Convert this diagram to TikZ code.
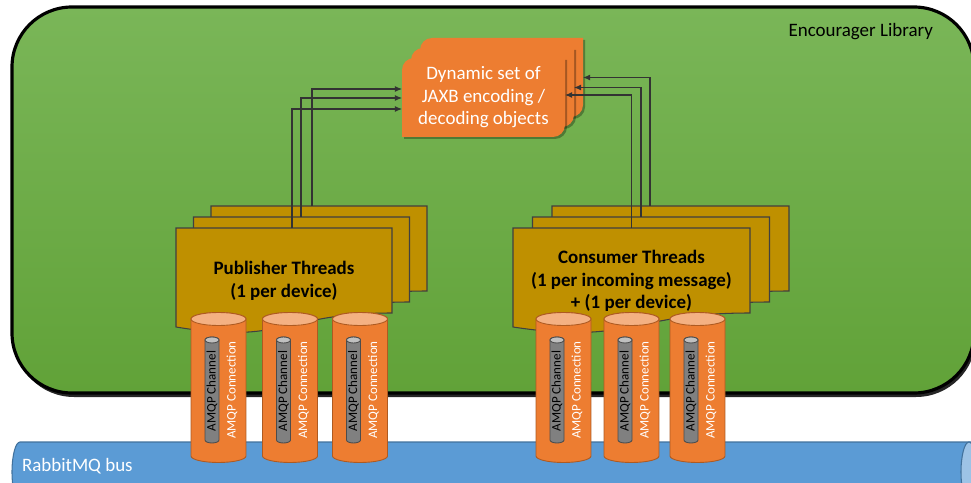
\documentclass[tikz,border=0pt]{standalone}
\usepackage{fontspec}
\setmainfont{Carlito}
\usetikzlibrary{arrows.meta,calc}
\definecolor{libgreen}{RGB}{122,182,88}
\definecolor{libgreendark}{RGB}{97,162,56}
\definecolor{busblue}{RGB}{91,155,213}
\definecolor{busedge}{RGB}{65,113,156}
\definecolor{busend}{RGB}{157,195,230}
\definecolor{codecorange}{RGB}{237,125,49}
\definecolor{conntop}{RGB}{244,177,131}
\definecolor{connedge}{RGB}{174,90,33}
\definecolor{threadgold}{RGB}{191,144,0}
\definecolor{changray}{RGB}{128,128,128}
\definecolor{changraytop}{RGB}{192,192,192}

\tikzset{
  bigtext/.style={font=\fontsize{10.8}{12.8}\selectfont, align=center, inner sep=0pt, outer sep=0pt},
  threadbox/.style={fill=threadgold, draw=black!75, line width=0.6pt},
  conn/.style={fill=codecorange, draw=connedge, line width=0.5pt},
  chan/.style={fill=changray, draw=black!70, line width=0.5pt},
  link/.style={draw=black!80, line width=0.6pt, -{Latex[length=4pt,width=3.4pt]}}
}

\begin{document}
\begin{tikzpicture}[x=0.02cm,y=-0.02cm]
\useasboundingbox (0,0) rectangle (971,483);

% bus
\draw[fill=busblue, draw=busedge, line width=0.6pt] (975,442) -- (20,442)
  arc[start angle=90,end angle=270,x radius=0.16cm,y radius=0.6cm] -- (975,502) -- cycle;
\draw[fill=busend, draw=busedge, line width=0.6pt] (969,472) ellipse[x radius=0.16cm,y radius=0.6cm];
\node[bigtext, text=white, anchor=west] (bus) at (22,466) {RabbitMQ bus};

% library
\fill[black!85, rounded corners=1.2cm] (14,10) rectangle (976,397);
\draw[line width=1.8pt, top color=libgreen, bottom color=libgreendark, rounded corners=1.2cm]
  (12,7) rectangle (974,393);
\node[bigtext, anchor=east] (lib) at (933,32) {Encourager Library};

% encoding / decoding objects
\foreach \d in {2,1,0} {
  \fill[black, opacity=0.3, xshift=0.04cm, yshift=-0.04cm] ({414+9*\d},{58-10*\d}) -- ({565+9*\d},{58-10*\d}) -- ({565+9*\d},{125-10*\d})
    arc[start angle=0,end angle=-90,radius=0.24cm] -- ({402+9*\d},{137-10*\d}) -- ({402+9*\d},{70-10*\d})
    arc[start angle=180,end angle=90,radius=0.24cm] -- cycle;
  \fill[codecorange] ({414+9*\d},{58-10*\d}) -- ({565+9*\d},{58-10*\d}) -- ({565+9*\d},{125-10*\d})
    arc[start angle=0,end angle=-90,radius=0.24cm] -- ({402+9*\d},{137-10*\d}) -- ({402+9*\d},{70-10*\d})
    arc[start angle=180,end angle=90,radius=0.24cm] -- cycle;
}
\node[minimum width=3.26cm, minimum height=1.58cm, outer sep=0pt] (dynC) at (501.5,77.5) {};
\node[minimum width=3.26cm, minimum height=1.58cm, outer sep=0pt] (dynB) at (492.5,87.5) {};
\node[bigtext, text=white, minimum width=3.26cm, minimum height=1.58cm] (dynA) at (483.5,97.5)
  {Dynamic set of\\JAXB encoding /\\decoding objects};

% thread stacks
\foreach \d in {2,1,0} {
  \draw[threadbox] ({176+17.5*\d},{228-11*\d}) -- ({392+17.5*\d},{228-11*\d}) -- ({392+17.5*\d},{313-11*\d})
    .. controls ({284+17.5*\d},{313-11*\d}) and ({284+17.5*\d},{345-11*\d}) .. ({176+17.5*\d},{327-11*\d}) -- cycle;
  \draw[threadbox] ({513+19.5*\d},{228-11*\d}) -- ({750+19.5*\d},{228-11*\d}) -- ({750+19.5*\d},{313-11*\d})
    .. controls ({631.5+19.5*\d},{313-11*\d}) and ({631.5+19.5*\d},{345-11*\d}) .. ({513+19.5*\d},{327-11*\d}) -- cycle;
}
\node[minimum width=4.32cm, minimum height=2.12cm, outer sep=0pt] (pubC) at (319,259) {};
\node[minimum width=4.32cm, minimum height=2.12cm, outer sep=0pt] (pubB) at (301.5,270) {};
\node[bigtext, font=\fontsize{10.8}{12.8}\selectfont\bfseries, minimum width=4.32cm, minimum height=2.12cm] (pubA) at (284,281)
  {Publisher Threads\\(1 per device)};
\node[minimum width=4.74cm, minimum height=2.12cm, outer sep=0pt] (conC) at (670.5,259) {};
\node[minimum width=4.74cm, minimum height=2.12cm, outer sep=0pt] (conB) at (651,270) {};
\node[bigtext, font=\fontsize{10.8}{12.8}\selectfont\bfseries, minimum width=4.74cm, minimum height=2.12cm] (conA) at (631.5,281)
  {Consumer Threads\\(1 per incoming message)\\+ (1 per device)};

% links to the encoders
\draw[link] ($(pubC.north)+(-7,0)$) |- ($(dynA.west)+(0,-8.5)$);
\draw[link] ($(pubB.north)+(-0.5,0)$) |- ($(dynA.west)+(0,0.5)$);
\draw[link] ($(pubA.north)+(8,0)$) |- ($(dynA.west)+(0,11.5)$);
\draw[link] ($(conC.north)+(-20.5,0)$) |- (dynC.east);
\draw[link] ($(conB.north)+(-10,0)$) |- (dynB.east);
\draw[link] (conA.north) |- ($(dynA.east)+(0,-2.5)$);

% connections and channels
\foreach \cx/\k in {218.5/pubA,290/pubB,360/pubC,563.5/conA,631.5/conB,697.5/conC} {
  \draw[conn] ({\cx-27.5},319) -- ({\cx-27.5},456) arc[start angle=180,end angle=360,x radius=0.55cm,y radius=0.13cm]
    -- ({\cx+27.5},319) arc[start angle=0,end angle=180,x radius=0.55cm,y radius=0.13cm] -- cycle;
  \draw[conn, fill=conntop] (\cx,319) ellipse[x radius=0.55cm,y radius=0.13cm];
  \draw[chan] ({\cx-13.5},340) -- ({\cx-13.5},440) arc[start angle=180,end angle=360,x radius=0.14cm,y radius=0.06cm]
    -- ({\cx+0.5},340) arc[start angle=0,end angle=180,x radius=0.14cm,y radius=0.06cm] -- cycle;
  \draw[chan, fill=changraytop] ({\cx-6.5},340) ellipse[x radius=0.14cm,y radius=0.06cm];
  \node[font=\fontsize{7.4}{8}\selectfont, rotate=90, inner sep=0pt] (\k chan) at ({\cx-6.5},391) {AMQP Channel};
  \node[font=\fontsize{7.4}{8}\selectfont, rotate=90, inner sep=0pt, text=white] (\k conn) at ({\cx+13.5},390) {AMQP Connection};
}
\end{tikzpicture}
\end{document}
